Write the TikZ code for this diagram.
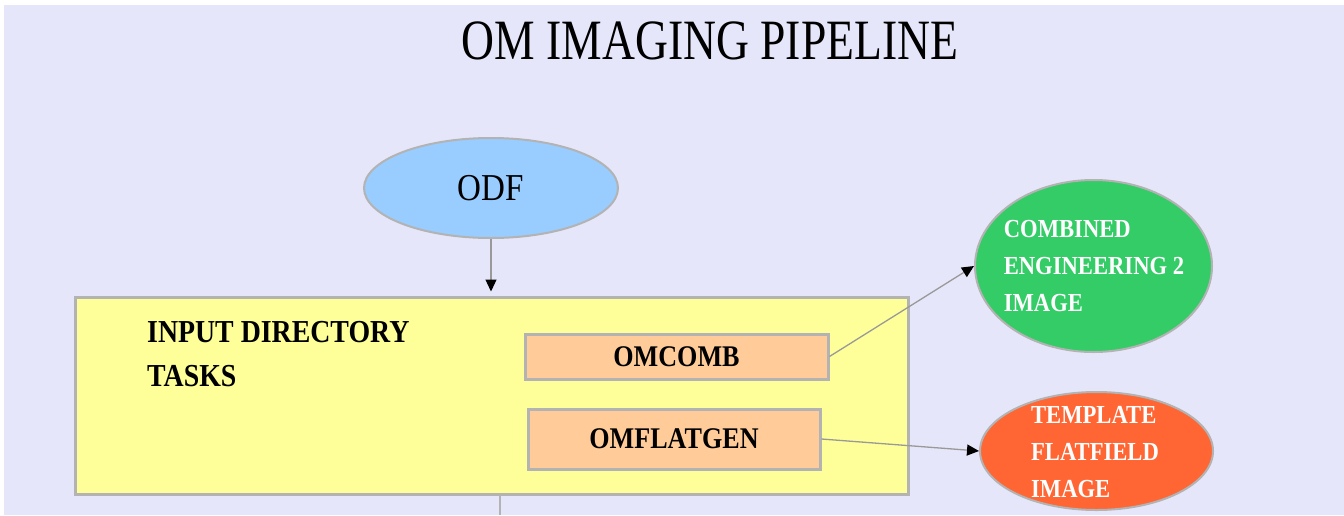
\documentclass[tikz,border=0pt]{standalone}
\usepackage{fontspec}
\setmainfont{Liberation Serif}[FakeStretch=0.87]
\newfontfamily\titlefont{Liberation Serif}[FakeStretch=0.8]
\usetikzlibrary{shapes.geometric,arrows.meta}
\definecolor{lav}{HTML}{E6E6FA}
\definecolor{yel}{HTML}{FFFF99}
\definecolor{peach}{HTML}{FFCC99}
\definecolor{sky}{HTML}{99CCFF}
\definecolor{grn}{HTML}{33CC66}
\definecolor{org}{HTML}{FF6633}
\definecolor{bord}{HTML}{B3B3B3}
\tikzset{
  oval/.style={ellipse, draw=bord, line width=2pt, inner sep=0pt},
  taskbox/.style={rectangle, draw=bord, line width=3pt, fill=peach, inner sep=0pt,
    font=\fontsize{30}{30}\selectfont\bfseries},
  conn/.style={draw=gray!80, line width=1.3pt, -{Triangle[length=12pt,width=11pt,color=black]}},
  whitetxt/.style={text=white, align=left, inner sep=0pt, font=\fontsize{26}{37}\selectfont\bfseries}
}
\begin{document}
\begin{tikzpicture}[x=1pt,y=-1pt]
\useasboundingbox (0,0) rectangle (1344,515);
\fill[white] (0,0) rectangle (1344,515);
\fill[lav] (4,5) rectangle (1344,515);
\node[font=\titlefont\fontsize{57}{57}\selectfont] (title) at (710,41) {OM IMAGING PIPELINE};
\node[oval, fill=sky, minimum width=254pt, minimum height=100pt,
  font=\fontsize{38}{38}\selectfont] (odf) at (491,188) {ODF};
\node[rectangle, draw=bord, line width=3pt, fill=yel, minimum width=833pt, minimum height=197pt,
  inner sep=0pt] (box) at (491.5,395.5) {};
\node[anchor=north west, align=left, inner sep=0pt, font=\fontsize{32}{44}\selectfont\bfseries]
  (boxlabel) at (147,321) {INPUT DIRECTORY\\TASKS};
\node[taskbox, minimum width=303pt, minimum height=45pt] (omcomb) at (676.5,356.5) {OMCOMB};
\node[taskbox, minimum width=292pt, minimum height=60pt] (omflat) at (674,439) {OMFLATGEN};
\node[oval, fill=grn, minimum width=237pt, minimum height=172pt] (comb) at (1093.5,266) {};
\node[whitetxt] (combtxt) at (1094,266) {COMBINED\\ENGINEERING 2\\IMAGE};
\node[oval, fill=org, minimum width=233pt, minimum height=118pt] (flat) at (1096.5,451) {};
\node[whitetxt] (flattxt) at (1095,452) {TEMPLATE\\FLATFIELD\\IMAGE};
\coordinate (bot) at (500,515);
\draw[conn, shorten >=4pt] (odf.south) -- (odf.south |- box.north);
\draw[conn] (omcomb.east) -- (comb.west);
\draw[conn] (omflat.east) -- (flat.west);
\draw[draw=bord, line width=2pt] (box.south -| bot) -- (bot);
\end{tikzpicture}
\end{document}
